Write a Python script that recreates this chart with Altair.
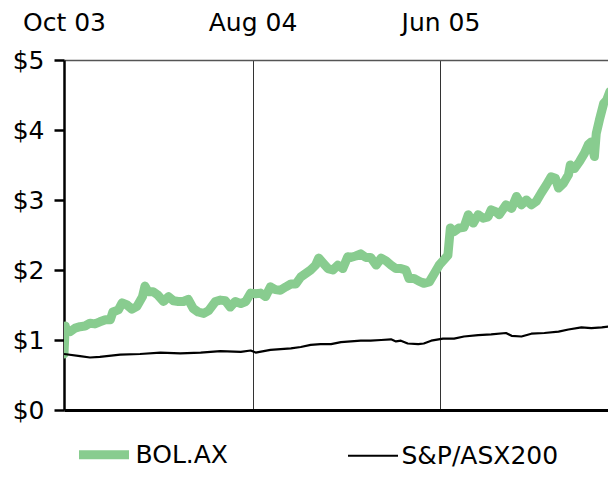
import altair as alt
import pandas as pd

series_names = ["BOL.AX", "S&P/ASX200"]
series_colors = ["#88CC8F", "#000000"]
series_widths = [9, 2.2]

bol_dates = [
    "2003-10-01", "2003-10-03", "2003-10-05", "2003-10-11", "2003-10-19", "2003-10-27",
    "2003-11-04", "2003-11-12", "2003-11-20", "2003-11-28", "2003-12-07", "2003-12-15",
    "2003-12-19", "2003-12-28", "2004-01-03", "2004-01-11", "2004-01-19", "2004-01-27",
    "2004-02-05", "2004-02-09", "2004-02-14", "2004-02-22", "2004-03-01", "2004-03-10",
    "2004-03-18", "2004-03-26", "2004-04-03", "2004-04-11", "2004-04-19", "2004-04-27",
    "2004-05-05", "2004-05-14", "2004-05-22", "2004-06-02", "2004-06-10", "2004-06-18",
    "2004-06-26", "2004-07-04", "2004-07-13", "2004-07-21", "2004-07-29", "2004-08-06",
    "2004-08-14", "2004-08-22", "2004-08-30", "2004-09-07", "2004-09-15", "2004-09-24",
    "2004-10-02", "2004-10-10", "2004-10-18", "2004-10-26", "2004-11-03", "2004-11-11",
    "2004-11-16", "2004-11-23", "2004-12-01", "2004-12-09", "2004-12-17", "2004-12-25",
    "2005-01-02", "2005-01-07", "2005-01-15", "2005-01-23", "2005-01-31", "2005-02-08",
    "2005-02-17", "2005-02-25", "2005-03-05", "2005-03-13", "2005-03-21", "2005-03-29",
    "2005-04-06", "2005-04-11", "2005-04-19", "2005-04-27", "2005-05-05", "2005-05-14",
    "2005-05-22", "2005-05-30", "2005-06-07", "2005-06-13", "2005-06-17", "2005-06-23",
    "2005-07-01", "2005-07-09", "2005-07-16", "2005-07-24", "2005-08-01", "2005-08-09",
    "2005-08-17", "2005-08-22", "2005-08-30", "2005-09-04", "2005-09-15", "2005-09-24",
    "2005-10-02", "2005-10-10", "2005-10-18", "2005-10-26", "2005-11-03", "2005-11-11",
    "2005-11-19", "2005-11-27", "2005-12-04", "2005-12-09", "2005-12-17", "2005-12-25",
    "2005-12-28", "2006-01-04", "2006-01-12", "2006-01-20", "2006-01-26", "2006-01-31",
    "2006-02-05", "2006-02-08", "2006-02-13", "2006-02-20", "2006-02-25", "2006-03-02",
    "2006-03-06", "2006-03-10", "2006-03-13",
]
bol_values = [
    0.80, 1.20, 1.14, 1.12, 1.17, 1.19,
    1.20, 1.24, 1.23, 1.26, 1.29, 1.29,
    1.40, 1.43, 1.53, 1.50, 1.44, 1.48,
    1.62, 1.77, 1.69, 1.69, 1.64, 1.55,
    1.62, 1.56, 1.55, 1.55, 1.58, 1.45,
    1.40, 1.38, 1.42, 1.55, 1.57, 1.56,
    1.47, 1.55, 1.52, 1.55, 1.67, 1.66,
    1.67, 1.62, 1.76, 1.72, 1.71, 1.76,
    1.80, 1.80, 1.90, 1.95, 2.00, 2.07,
    2.17, 2.10, 2.02, 2.00, 2.07, 2.02,
    2.19, 2.18, 2.20, 2.23, 2.18, 2.18,
    2.07, 2.17, 2.13, 2.07, 2.02, 2.02,
    2.00, 1.88, 1.88, 1.84, 1.81, 1.83,
    1.95, 2.07, 2.15, 2.21, 2.60, 2.55,
    2.60, 2.61, 2.79, 2.67, 2.79, 2.74,
    2.76, 2.86, 2.83, 2.79, 2.93, 2.88,
    3.05, 2.93, 3.00, 2.93, 2.98, 3.10,
    3.21, 3.33, 3.31, 3.17, 3.24, 3.36,
    3.50, 3.45, 3.55, 3.67, 3.79, 3.83,
    3.62, 3.95, 4.14, 4.38, 4.43, 4.55,
    4.43, 4.81, 4.90,
]

asx_dates = [
    "2003-10-01", "2003-10-27", "2003-11-12", "2003-11-28", "2003-12-31", "2004-02-01",
    "2004-03-05", "2004-04-06", "2004-05-09", "2004-06-10", "2004-07-13", "2004-07-29",
    "2004-08-06", "2004-08-30", "2004-10-02", "2004-10-18", "2004-11-03", "2004-11-19",
    "2004-12-06", "2004-12-22", "2005-01-07", "2005-01-23", "2005-02-08", "2005-02-25",
    "2005-03-13", "2005-03-21", "2005-03-29", "2005-04-09", "2005-04-26", "2005-05-05",
    "2005-05-17", "2005-06-05", "2005-06-23", "2005-07-09", "2005-08-01", "2005-08-22",
    "2005-09-15", "2005-09-24", "2005-10-10", "2005-10-26", "2005-11-16", "2005-12-09",
    "2005-12-25", "2006-01-15", "2006-01-31", "2006-02-17", "2006-03-05", "2006-03-13",
]
asx_values = [
    0.80, 0.77, 0.75, 0.76, 0.79, 0.80,
    0.82, 0.81, 0.82, 0.84, 0.83, 0.85,
    0.82, 0.86, 0.88, 0.90, 0.93, 0.94,
    0.94, 0.97, 0.98, 0.99, 0.99, 1.00,
    1.01, 0.98, 0.99, 0.95, 0.94, 0.95,
    0.99, 1.02, 1.02, 1.05, 1.07, 1.08,
    1.10, 1.06, 1.05, 1.09, 1.10, 1.12,
    1.15, 1.18, 1.17, 1.18, 1.20, 1.22,
]

axis_dates = [(2003, 10, 1), (2004, 8, 1), (2005, 6, 1)]
axis_labels = ["Oct 03", "Aug 04", "Jun 05"]
y_ticks = [0, 1, 2, 3, 4, 5]
x_start = (2003, 10, 1)
x_end = (2006, 2, 27)

df = pd.concat([
    pd.DataFrame({"date": pd.to_datetime(bol_dates), "value": bol_values, "series": series_names[0]}),
    pd.DataFrame({"date": pd.to_datetime(asx_dates), "value": asx_values, "series": series_names[1]}),
])

def dt(t):
    return alt.DateTime(year=t[0], month=t[1], date=t[2])

label_expr = "''"
for (y, m, d), lab in reversed(list(zip(axis_dates, axis_labels))):
    label_expr = f"timeFormat(datum.value, '%Y-%m-%d') == '{y:04d}-{m:02d}-{d:02d}' ? '{lab}' : ({label_expr})"

x_scale = alt.Scale(domain=[dt(x_start), dt(x_end)])
y_scale = alt.Scale(domain=[0, 5], nice=False)

legend = alt.Legend(
    orient="none", legendX=10.5, legendY=365, direction="horizontal", title=None,
    labelFontSize=25, labelFont="DejaVu Sans", labelColor="black",
    symbolType="stroke", symbolSize=2500, columnPadding=115, labelOffset=2,
    labelLimit=400, padding=0, rowPadding=0,
)
color = alt.Color("series:N", scale=alt.Scale(domain=series_names, range=series_colors), legend=legend)
width_enc = alt.StrokeWidth("series:O", scale=alt.Scale(domain=series_names, range=series_widths), legend=legend)

y_axis = alt.Axis(
    values=y_ticks, labelExpr="'$' + datum.value", orient="left",
    labelFontSize=25, labelFont="DejaVu Sans", labelColor="black", labelPadding=10,
    domainColor="black", domainWidth=2.5, tickColor="black", tickWidth=2.5, tickSize=10,
    grid=False, title=None,
)

bottom_axis = alt.Axis(
    orient="bottom", values=[dt(t) for t in axis_dates[1:]], labels=False, ticks=False,
    grid=True, gridColor="#333333", gridWidth=1, domainColor="black", domainWidth=3, title=None,
)
top_axis = alt.Axis(
    orient="top", values=[dt(t) for t in axis_dates], labelExpr=label_expr,
    labelFontSize=25, labelFont="DejaVu Sans", labelColor="black", labelFlush=False,
    labelBound=False, labelOverlap=False, labelBaseline="alphabetic", labelPadding=30, ticks=False, tickSize=0,
    grid=False, domainColor="#555555", domainWidth=1.5, title=None,
)

green = alt.Chart(df).transform_filter(alt.datum.series == series_names[0]).mark_line(
    strokeCap="round", strokeJoin="round", clip=True
).encode(
    x=alt.X("date:T", scale=x_scale, axis=bottom_axis),
    y=alt.Y("value:Q", scale=y_scale, axis=y_axis),
    color=color,
    strokeWidth=width_enc,
)

black = alt.Chart(df).transform_filter(alt.datum.series == series_names[1]).mark_line(
    strokeJoin="round", clip=True
).encode(
    x=alt.X("date:T", scale=x_scale, axis=top_axis),
    y=alt.Y("value:Q", scale=y_scale, axis=y_axis),
    color=color,
    strokeWidth=width_enc,
)

chart = alt.layer(green, black).resolve_axis(x="independent").properties(
    width=544, height=350,
    autosize=alt.AutoSizeParams(type="none"),
    padding={"left": 56, "top": 52, "right": 0, "bottom": 59},
).configure_view(stroke=None).configure(font="DejaVu Sans")

chart.save("out.html", embed_options={"renderer": "svg", "actions": False})
